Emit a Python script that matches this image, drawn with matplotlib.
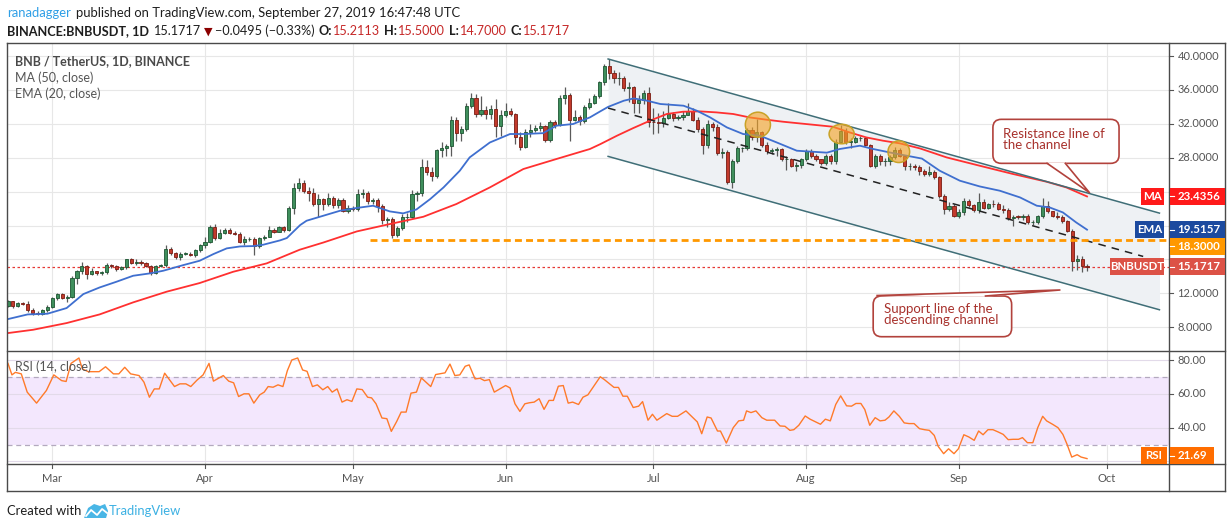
import numpy as np
import matplotlib.pyplot as plt
from matplotlib.patches import Rectangle, Polygon, FancyBboxPatch, Ellipse
from matplotlib.lines import Line2D

plt.rcParams['font.family'] = ['Lato', 'DejaVu Sans']

# ---------------- data ----------------
# daily candles, index 0 = 2019-02-20, index 219 = 2019-09-27
first_open = 10.54
closes = [
    # Feb 20-28
    11.05, 10.50, 10.85, 10.80, 10.07, 9.70, 9.56, 9.99, 10.40,
    # Mar
    11.40, 11.88, 11.50, 11.60, 13.80, 14.60, 15.20, 14.30, 14.60, 14.40,
    14.50, 15.40, 15.20, 14.90, 15.10, 16.00, 15.60, 15.70, 15.60, 15.20,
    14.40, 15.20, 15.30, 17.20, 16.80, 16.30, 16.70, 16.70, 16.56, 17.10, 17.66,
    # Apr
    18.05, 19.80, 18.55, 19.10, 19.50, 19.15, 19.00, 18.10, 18.40, 18.40,
    17.60, 18.50, 18.70, 19.50, 19.30, 19.80, 19.50, 22.10, 24.40, 25.00,
    24.10, 23.90, 22.60, 23.10, 22.60, 23.20, 22.45, 23.05, 21.75, 22.10,
    # May
    21.95, 23.70, 23.85, 22.90, 23.00, 22.26, 20.70, 20.76, 18.90, 19.70,
    20.96, 21.05, 23.68, 23.86, 26.86, 26.35, 25.90, 28.87, 29.20, 29.40,
    32.50, 30.90, 31.40, 34.06, 35.10, 33.20, 33.60, 33.15, 33.75, 31.80, 33.04,
    # Jun
    33.47, 33.20, 30.50, 29.30, 31.00, 31.30, 31.50, 31.80, 30.10, 32.20,
    31.90, 35.08, 35.36, 32.50, 32.76, 32.30, 33.98, 34.50, 35.28, 36.93,
    38.82, 38.03, 37.36, 37.40, 36.20, 36.30, 34.50, 34.80, 35.60, 32.20,
    # Jul
    32.17, 32.05, 32.69, 33.20, 32.65, 32.76, 33.07, 33.55, 32.50, 31.35,
    29.50, 31.98, 31.58, 28.60, 28.67, 25.17, 27.65, 29.10, 29.10, 31.30,
    30.50, 31.07, 29.50, 28.80, 28.95, 29.07, 27.80, 27.85, 27.06, 27.18, 27.80,
    # Aug
    28.80, 28.20, 27.85, 27.40, 28.24, 27.60, 29.90, 31.20, 29.85, 29.85,
    30.30, 30.30, 29.50, 27.06, 28.20, 27.57, 27.65, 28.04, 28.90, 28.24,
    26.98, 27.06, 26.86, 26.40, 26.07, 26.35, 25.68, 23.44, 21.95, 22.34, 21.16,
    # Sep 1-27
    21.60, 22.93, 22.46, 21.80, 22.73, 22.06, 22.54, 22.50, 22.00, 21.80,
    20.85, 21.05, 21.04, 21.16, 20.37, 20.37, 21.16, 22.34, 21.70, 21.16,
    20.96, 20.49, 19.39, 15.85, 16.05, 15.2113, 15.1717,
]
highs = [
    11.20, 11.10, 10.95, 11.00, 11.10, 10.30, 9.90, 10.10, 10.60,
    11.60, 12.00, 12.05, 11.80, 14.00, 14.80, 15.70, 15.30, 15.00, 14.70,
    14.70, 15.60, 15.50, 15.30, 15.20, 16.10, 16.20, 16.00, 15.90, 15.70,
    15.30, 15.30, 15.50, 17.70, 17.50, 16.90, 16.90, 16.90, 16.90, 17.20, 17.80,
    18.60, 20.10, 20.20, 19.60, 19.70, 19.70, 19.40, 19.30, 18.80, 18.70,
    18.60, 18.60, 18.90, 20.00, 19.70, 20.00, 20.00, 22.30, 25.00, 25.60,
    25.40, 24.60, 24.40, 23.70, 23.20, 23.80, 23.50, 23.30, 23.30, 22.40,
    22.30, 24.30, 24.30, 24.10, 23.30, 23.20, 22.50, 21.00, 21.00, 20.00,
    21.40, 21.50, 24.20, 24.10, 27.90, 27.70, 26.90, 29.00, 29.90, 29.60,
    32.90, 32.80, 31.80, 34.50, 35.60, 35.50, 35.30, 34.10, 34.20, 34.90, 33.60,
    34.50, 33.90, 33.30, 31.00, 31.40, 32.00, 31.90, 32.20, 31.90, 32.50,
    32.40, 35.40, 36.40, 35.60, 33.60, 33.10, 34.20, 35.00, 35.50, 37.10,
    39.00, 39.60, 38.30, 38.10, 37.70, 36.90, 36.50, 35.40, 36.00, 36.30,
    33.90, 33.30, 33.50, 34.50, 33.40, 33.00, 33.50, 34.50, 33.90, 32.80,
    31.60, 32.40, 32.20, 32.00, 29.20, 28.90, 27.90, 29.40, 29.30, 31.50,
    31.60, 32.60, 31.20, 29.90, 29.20, 29.30, 29.20, 28.20, 28.00, 27.50, 28.00,
    29.00, 29.00, 28.40, 27.90, 28.50, 28.40, 30.20, 31.90, 31.50, 30.30,
    30.60, 30.60, 30.50, 29.60, 28.40, 28.40, 28.00, 28.30, 29.30, 29.10,
    28.30, 27.40, 27.30, 27.10, 26.70, 27.00, 26.50, 25.80, 23.70, 22.80, 22.50,
    21.90, 23.20, 23.10, 22.60, 23.80, 23.10, 22.70, 23.00, 22.80, 22.40,
    22.10, 21.30, 21.30, 21.40, 21.40, 20.60, 21.30, 23.30, 22.90, 21.70,
    21.60, 21.20, 20.60, 19.60, 16.50, 16.40, 15.50,
]
lows = [
    10.40, 10.30, 10.45, 10.60, 9.75, 9.50, 9.40, 9.45, 9.85,
    10.30, 11.20, 11.30, 11.00, 11.50, 13.10, 14.30, 13.70, 14.20, 14.20,
    14.20, 14.30, 15.00, 14.70, 14.80, 14.90, 15.50, 15.40, 15.40, 15.10,
    14.20, 14.30, 15.10, 15.10, 16.50, 16.00, 15.90, 16.50, 16.40, 16.30, 16.90,
    17.40, 17.90, 18.30, 18.40, 19.00, 19.00, 18.90, 17.90, 17.70, 18.20,
    16.50, 17.30, 18.30, 18.60, 19.10, 19.20, 19.30, 19.40, 21.40, 24.10,
    23.90, 22.90, 22.30, 21.00, 21.80, 22.30, 22.10, 22.10, 21.60, 21.50,
    21.70, 21.70, 23.30, 22.60, 22.60, 21.60, 20.20, 19.80, 18.50, 18.60,
    19.50, 20.40, 20.90, 22.90, 23.50, 26.00, 25.30, 25.60, 28.10, 28.20,
    28.20, 30.00, 30.00, 31.10, 33.90, 32.80, 32.90, 32.60, 32.60, 30.50, 30.60,
    32.80, 32.90, 29.60, 28.90, 29.10, 30.40, 31.00, 31.20, 29.90, 29.90,
    31.50, 31.70, 34.30, 30.00, 32.30, 31.90, 32.10, 33.70, 34.30, 35.00,
    36.60, 37.30, 36.80, 36.60, 35.90, 34.60, 33.30, 33.30, 34.30, 31.60,
    30.80, 30.90, 31.60, 32.60, 32.30, 32.40, 32.40, 33.00, 32.30, 31.00,
    28.50, 29.20, 31.20, 28.30, 28.00, 24.90, 24.40, 27.40, 28.70, 28.90,
    30.10, 29.90, 29.30, 28.50, 28.40, 28.20, 27.60, 26.60, 26.90, 26.40, 26.80,
    27.60, 28.00, 27.60, 27.20, 27.20, 27.30, 27.30, 29.70, 29.60, 29.20,
    29.70, 30.00, 29.40, 26.90, 26.80, 27.20, 27.00, 27.20, 27.90, 28.10,
    26.50, 26.50, 26.60, 26.00, 25.80, 25.90, 25.50, 23.20, 21.40, 21.70, 21.00,
    20.90, 21.30, 22.20, 21.60, 21.50, 21.90, 21.90, 22.20, 21.80, 21.50,
    20.70, 19.90, 20.80, 20.60, 20.20, 20.10, 20.20, 20.90, 21.50, 21.00,
    20.80, 20.30, 19.20, 14.70, 14.80, 14.50, 14.70,
]
# daily open = previous close (24h market)
opens = [first_open] + closes[:-1]

# indicator lines as (day index, value)
ma50 = [(0, 7.32), (5.1, 7.71), (11.9, 8.50), (18.6, 9.52), (25.4, 10.94),
        (32.2, 12.20), (38.9, 13.22), (45.7, 14.55), (52.5, 15.54), (59.2, 17.15),
        (64.0, 18.00), (70.8, 19.31), (77.5, 20.18), (84.3, 21.04), (91.0, 22.54),
        (97.8, 24.50), (104.6, 26.67), (111.3, 27.85), (118.1, 29.03), (120.2, 29.60),
        (123.6, 30.60), (126.9, 31.50), (130.3, 32.37), (133.7, 33.16), (137.0, 33.43),
        (140.4, 33.47), (143.8, 33.35), (147.2, 33.16), (150.5, 32.76), (153.9, 32.49),
        (157.3, 32.25), (160.7, 32.05), (164.0, 31.86), (167.4, 31.66), (170.8, 30.99),
        (174.2, 30.40), (177.6, 30.01), (181.0, 29.70), (185.1, 29.10), (190.5, 28.04),
        (197.2, 27.06), (204.0, 26.08), (210.8, 25.17), (214.8, 24.50), (219, 23.4356)]
ema20 = [(0, 8.97), (4, 9.52), (8, 9.60), (11.9, 10.27), (15.3, 11.92), (18.6, 12.70),
         (22.0, 13.37), (25.4, 14.08), (28.8, 14.36), (31.5, 14.67), (35.6, 15.34),
         (38.9, 15.85), (41.7, 16.64), (44.4, 17.31), (47.1, 17.54), (49.8, 17.58),
         (51.8, 17.74), (55.2, 18.25), (56.6, 18.53), (57.9, 19.27), (59.3, 20.06),
         (60.6, 20.57), (64.0, 21.16), (67.4, 21.75), (70.7, 22.07), (74.1, 22.34),
         (77.5, 21.67), (80.2, 21.44), (82.9, 21.90), (85.7, 23.13), (88.4, 24.50),
         (91.7, 26.47), (93.7, 28.04), (97.8, 29.80), (101.9, 30.80), (104.7, 30.80),
         (108.6, 30.90), (111.3, 31.78), (114.7, 31.98), (118.1, 32.76), (120.2, 33.47),
         (121.8, 34.00), (125.0, 34.73), (127.0, 35.00), (129.7, 34.73), (132.4, 34.34),
         (137.1, 34.14), (139.8, 33.55), (142.5, 32.76), (145.9, 31.58), (149.2, 30.80),
         (152.6, 30.60), (156.0, 29.81), (160.1, 28.83), (166.2, 28.60), (168.8, 29.03),
         (172.9, 29.42), (175.6, 29.03), (179.6, 28.55), (185.5, 27.90), (189.1, 26.47),
         (193.2, 25.29), (197.2, 24.62), (201.3, 24.11), (205.4, 23.32), (208.8, 22.34),
         (211.4, 22.14), (214.1, 21.55), (216.8, 20.37), (219, 19.5157)]
rsi14 = [(0, 78), (0.8, 71.2), (1.5, 72.7), (2.7, 71.8), (3.9, 61), (5.8, 54.5), (7.8, 62),
         (9.3, 71.2), (10.9, 67.8), (11.8, 67.3), (12.8, 78), (14.4, 81.2), (15.1, 74.7),
         (16.3, 73.1), (18.5, 73.1), (19.8, 76), (21.4, 71.8), (22.5, 71.8), (23.7, 75.7),
         (24.9, 71.8), (26.6, 70.8), (27.6, 66.9), (28.7, 58), (29.7, 62.9), (30.7, 62.9),
         (31.8, 72.2), (33.8, 64.3), (34.9, 65.9), (36.1, 65.9), (37.1, 64.3), (38.4, 68.2),
         (39.6, 71.2), (40.8, 78), (41.7, 67.5), (43.7, 70.8), (44.8, 67.5), (45.8, 66.5),
         (46.8, 58.4), (47.9, 60), (48.9, 60), (49.9, 54.5), (51.1, 59.4), (52.0, 61),
         (52.8, 64.3), (53.8, 63.9), (54.8, 65.3), (55.8, 64.3), (56.7, 73.7), (57.6, 80),
         (58.8, 81.2), (59.8, 74.1), (60.7, 73.3), (61.8, 64.3), (62.8, 65.3), (63.9, 62.4),
         (64.9, 64.3), (65.8, 61), (66.8, 62.9), (67.8, 55.1), (68.8, 56.5), (69.8, 55.5),
         (70.8, 62.9), (71.9, 62.5), (73.0, 58), (73.8, 57.6), (74.7, 54.1), (75.9, 45.7),
         (76.9, 45.3), (77.8, 37.8), (78.9, 43.7), (79.8, 49.2), (80.8, 49.2), (81.8, 60.4),
         (82.9, 61), (83.9, 69.4), (85.8, 64.3), (86.8, 71.4), (88.7, 72.4), (89.7, 77.6),
         (90.7, 70.8), (91.7, 71.2), (92.8, 76.3), (93.6, 77.1), (94.8, 68.8), (95.8, 69.2),
         (96.7, 67.8), (97.7, 68.4), (98.7, 61), (99.8, 62.9), (101.0, 64.9), (101.9, 63.5),
         (102.9, 54.1), (103.9, 49.6), (104.9, 54.1), (105.8, 54.7), (106.8, 55.1),
         (107.8, 57.1), (108.8, 50.8), (109.8, 56.1), (110.7, 56.1), (111.7, 64.5),
         (112.7, 64.9), (113.7, 54.5), (114.6, 55.1), (115.8, 53.7), (116.7, 58),
         (117.7, 59.4), (120.2, 70.1), (121, 68.5), (123, 63.8), (123.9, 63.8), (124.8, 58.6),
         (125.7, 58.6), (126.9, 51.9), (128, 52.7), (128.8, 55.4), (129.9, 44.4), (130.8, 47.9),
         (131.7, 44.4), (133.7, 48.3), (134.8, 46.7), (135.9, 46.7), (137.6, 49.9), (139, 45.9),
         (139.9, 43.4), (140.8, 36.4), (141.9, 46.3), (142.7, 45.7), (144, 38), (144.6, 38),
         (145.8, 30.9), (147.2, 40), (148.3, 44), (149.3, 44.4), (149.9, 49.9), (150.8, 48.9),
         (151.8, 49.9), (153, 45.9), (154, 44.4), (155.6, 44.4), (156.7, 41), (157.7, 40.8),
         (158.7, 38.4), (159.5, 38.8), (160.5, 41.4), (161.8, 46.9), (162.8, 45), (163.9, 43.4),
         (164.9, 42), (165.9, 45), (166.9, 44), (168, 53.7), (169, 58.8), (170.2, 52.9),
         (171.2, 52.7), (172.1, 54.3), (173.1, 54.3), (173.9, 50.7), (174.9, 41.4), (176, 45.9),
         (177, 44), (178, 44.4), (178.8, 46.3), (179.8, 49.9), (180.9, 46.7), (181.9, 42.8),
         (182.9, 42.4), (183.9, 42.4), (185, 39.4), (186, 38.8), (187, 38.4), (188, 35.4),
         (188.8, 28.9), (189.9, 24.6), (190.9, 27.5), (192, 24.6), (192.9, 27.5), (194, 35.8),
         (195, 34.5), (196.1, 32.5), (197, 38), (197.9, 35.8), (198.9, 38.8), (199.9, 38.8),
         (201, 37.4), (202, 36), (203, 32.9), (204, 33.1), (205.1, 33.1), (205.9, 34.1),
         (206.9, 31.1), (208, 31.1), (209, 40), (210, 46.7), (210.8, 44), (212, 42),
         (213.1, 40), (214.1, 36), (214.9, 30.5), (215.9, 22.6), (217, 24), (217.8, 22.6),
         (219, 21.69)]

month_idx = [9, 40, 70, 101, 131, 162, 193, 223]
month_lbl = ['Mar', 'Apr', 'May', 'Jun', 'Jul', 'Aug', 'Sep', 'Oct']
price_ticks = [8, 12, 16, 20, 24, 28, 32, 36, 40]
rsi_ticks = [20, 40, 60, 80]
rsi_labels = [40, 60, 80]

# drawings on the chart
channel_x = [121.8, 233.7]
upper_y = [39.65, 21.47]
lower_y = [28.16, 10.07]
mid_x = [121.8, 230.4]
mid_y = [33.86, 16.36]
level_1830 = 18.30
level_start = 73.5
circle_x = [152.2, 169.2, 180.8]
circle_y = [31.90, 30.80, 28.71]
last_close = closes[-1]

# ---------------- figure ----------------
W, H = 1232, 528
fig = plt.figure(figsize=(W / 100, H / 100), dpi=100)
fig.patch.set_facecolor('white')

L, R = 6.7, 1169.3
TOP, MID, BOT, DBOT = 43.3, 350.7, 464.0, 491.0
RIGHT = 1225.0

ax = fig.add_axes([L / W, 1 - MID / H, (R - L) / W, (MID - TOP) / H])
axr = fig.add_axes([L / W, 1 - BOT / H, (R - L) / W, (BOT - MID) / H])
for a in (ax, axr):
    a.set_xlim(-0.26, 235.7)
    a.set_xticks([])
    a.set_yticks([])
    for s in a.spines.values():
        s.set_visible(False)
ax.set_ylim(5.24, 41.5)
axr.set_ylim(18.5, 85.5)

grid_c = '#e7e7e7'
for t in price_ticks:
    ax.axhline(t, color=grid_c, lw=0.8, zorder=0)
for m in month_idx:
    ax.axvline(m, color=grid_c, lw=0.8, zorder=0)
    axr.axvline(m, color=grid_c, lw=0.8, zorder=0)

# channel
cx = np.array(channel_x)
ax.fill_between(cx, lower_y, upper_y, color='#eef1f4', zorder=1, lw=0)
ax.plot(cx, upper_y, color='#3f6e77', lw=1.1, zorder=6)
ax.plot(cx, lower_y, color='#3f6e77', lw=1.1, zorder=6)
ax.plot(mid_x, mid_y, color='#222222', lw=1.1, dashes=(5, 4), zorder=6)

# horizontal levels
ax.plot([level_start, 235.7], [level_1830] * 2, color='#ff9800', lw=2.0, dashes=(2.5, 1.5), zorder=6)
ax.axhline(last_close, color='#e53935', lw=0.9, dashes=(2, 2), zorder=2)

# candles
idx = np.arange(len(closes))
o = np.array(opens)
c = np.array(closes)
up = c >= o
lo = np.minimum(o, c)
hgt = np.maximum(np.abs(c - o), 0.07)
ax.vlines(idx, lows, highs, color='#5a5a5a', lw=0.9, zorder=3)
ax.bar(idx[up], hgt[up], bottom=lo[up], width=0.64, color='#3f8f5c',
       edgecolor='#1d5532', lw=0.6, zorder=4)
ax.bar(idx[~up], hgt[~up], bottom=lo[~up], width=0.64, color='#c23a2c',
       edgecolor='#7a1b12', lw=0.6, zorder=4)

# indicators
ax.plot(*zip(*ma50), color='#ff3030', lw=1.3, zorder=5)
ax.plot(*zip(*ema20), color='#3f6fcf', lw=1.3, zorder=5)

# orange circles
circle_w = [5.1, 5.1, 4.4]
circle_h = [2.95, 2.3, 2.55]
for x0, y0, cw, ch in zip(circle_x, circle_y, circle_w, circle_h):
    ax.add_patch(Ellipse((x0, y0), cw, ch, facecolor=(0.96, 0.64, 0.15, 0.62),
                         edgecolor='#c9a227', lw=1.1, zorder=7))

# callouts
ann_c = '#a8322d'
box_c = '#b2423c'
asp = 4.927 / 8.478
ax.add_patch(FancyBboxPatch((199.9, 27.34), 25.6, 5.19,
                            boxstyle='round,pad=0,rounding_size=1.7', mutation_aspect=asp,
                            facecolor='white', edgecolor=box_c, lw=1.2, zorder=8))
ax.add_patch(Polygon([(210.9, 27.45), (219.5, 23.88), (214.6, 27.45)], closed=True,
                     facecolor='white', edgecolor='none', zorder=9))
ax.add_line(Line2D([210.9, 219.5, 214.6], [27.34, 23.88, 27.34], color=box_c, lw=1.2, zorder=9))
ax.text(202.0, 30.1, 'Resistance line of\nthe channel', color=ann_c, fontsize=9.5,
        va='center', ha='left', linespacing=0.9, zorder=10)

ax.add_patch(FancyBboxPatch((175.6, 6.89), 28.1, 4.8,
                            boxstyle='round,pad=0,rounding_size=1.7', mutation_aspect=asp,
                            facecolor='white', edgecolor=box_c, lw=1.2, zorder=8))
ax.add_patch(Polygon([(176.4, 11.6), (213.5, 12.40), (198.4, 11.6)], closed=True,
                     facecolor='white', edgecolor='none', zorder=9))
ax.add_line(Line2D([176.4, 213.5, 198.4], [11.75, 12.40, 11.69], color=box_c, lw=1.2, zorder=9))
ax.text(177.7, 9.5, 'Support line of the\ndescending channel', color=ann_c, fontsize=9.5,
        va='center', ha='left', linespacing=0.9, zorder=10)

# RSI pane
axr.axhspan(30, 70, color='#f3e7fd', zorder=0, lw=0)
for t in rsi_ticks:
    axr.axhline(t, color='#e2dae9', lw=0.8, zorder=0.5)
for t in (30, 70):
    axr.axhline(t, color='#b3a9be', lw=0.9, dashes=(4, 3), zorder=1)
axr.plot(*zip(*rsi14), color='#ff7a2a', lw=1.0, zorder=3)


# ---------------- text, scales and frames ----------------
renderer = fig.canvas.get_renderer()


def T(x, y, s, **kw):
    kw.setdefault('va', 'center')
    kw.setdefault('ha', 'left')
    return fig.text(x / W, 1 - y / H, s, **kw)


def put(x, y, s, **kw):
    # draw a text and give back the pixel x where it ends
    t = T(x, y, s, **kw)
    return t.get_window_extent(renderer).x1


def ypix(a, v):
    return H - a.transData.transform((0, v))[1]


def xpix(a, v):
    return a.transData.transform((v, 0))[0]


def hline(x0, x1, y, color, lw=0.8, z=2):
    fig.add_artist(Line2D([x0 / W, x1 / W], [1 - y / H, 1 - y / H], color=color, lw=lw,
                          transform=fig.transFigure, zorder=z))


def vline(x, y0, y1, color, lw=0.8, z=2):
    fig.add_artist(Line2D([x / W, x / W], [1 - y0 / H, 1 - y1 / H], color=color, lw=lw,
                          transform=fig.transFigure, zorder=z))


def box(x0, x1, yc, h, color, z=4):
    fig.add_artist(Rectangle((x0 / W, 1 - (yc + h / 2) / H), (x1 - x0) / W, h / H,
                             transform=fig.transFigure, facecolor=color, edgecolor='none',
                             zorder=z))


tick_c = '#555555'

# value tags on the price scale (pushed down when they would collide)
tag_h = 16.6
tags = [('MA', ma50[-1][1], '#ff1a1a', 1140.7),
        ('EMA', ema20[-1][1], '#1c4a9f', 1135.0),
        (None, level_1830, '#ff9800', None),
        ('BNBUSDT', last_close, '#dc5246', 1110.0)]
tag_spans = []
prev_bottom = -1e9
for name, val, col, nx in tags:
    yc = ypix(ax, val)
    if yc - tag_h / 2 < prev_bottom:
        yc = prev_bottom + tag_h / 2
    prev_bottom = yc + tag_h / 2
    tag_spans.append((yc - tag_h / 2, yc + tag_h / 2))
    box(R + 0.5, RIGHT, yc, tag_h, col)
    hline(R + 0.5, R + 4.5, yc, 'white', z=5)
    T(1177.5, yc, f'{val:.4f}', color='white', fontsize=8.3, weight='bold', zorder=6)
    if name:
        box(nx, 1164.0, yc, tag_h, col)
        T((nx + 1164.0) / 2, yc, name, ha='center', color='white', fontsize=8.3,
          weight='bold', zorder=6)

for t in price_ticks:
    y = ypix(ax, t)
    hline(R, R + 4, y, tick_c)
    hidden = any(y0 - 6 < y < y1 + 6 for y0, y1 in tag_spans)
    if not hidden:
        T(1177.5, y, f'{t:.4f}', color=tick_c, fontsize=8)
for t in rsi_labels:
    y = ypix(axr, t)
    hline(R, R + 4, y, tick_c)
    T(1177.5, y, f'{t:.2f}', color=tick_c, fontsize=8)
for m, lab in zip(month_idx, month_lbl):
    x = xpix(axr, m)
    vline(x, BOT, BOT + 4, tick_c)
    T(x, 479, lab, ha='center', color=tick_c, fontsize=8)

rsi_val = rsi14[-1][1]
yc = min(ypix(axr, rsi_val), BOT - tag_h / 2)
box(R + 0.5, 1214.0, yc, tag_h, '#ff6d00')
hline(R + 0.5, R + 4.5, yc, 'white', z=5)
T(1177.5, yc, f'{rsi_val:.2f}', color='white', fontsize=8.3, weight='bold', zorder=6)
box(1141.0, 1166.5, yc, tag_h, '#ff6d00')
T(1153.7, yc, 'RSI', ha='center', color='white', fontsize=8.3, weight='bold', zorder=6)

# frames
frame_c = '#4a4a4a'
hline(L, RIGHT, TOP, frame_c, 1.0, 3)
hline(L, RIGHT, MID, frame_c, 1.0, 3)
hline(L, RIGHT, BOT, frame_c, 1.0, 3)
hline(L, RIGHT, DBOT, frame_c, 1.0, 3)
vline(L, TOP, DBOT, frame_c, 1.0, 3)
vline(R, TOP, DBOT, frame_c, 1.0, 3)
vline(RIGHT, TOP, DBOT, frame_c, 1.0, 3)

# pane legends
T(15, 61, 'BNB / TetherUS, 1D, BINANCE', color='#4a4a4a', fontsize=9, weight='bold')
T(15, 77.5, 'MA (50, close)', color='#555555', fontsize=9)
T(15, 94, 'EMA (20, close)', color='#555555', fontsize=9)
T(15, 367, 'RSI (14, close)', color='#555555', fontsize=9)

# header
hdr = '#1e1e1e'
red = '#c62828'
fs = 9.1
T(7, 13, 'ranadagger', color='#2f9fe6', fontsize=9.4)
T(76.5, 13, 'published on TradingView.com, September 27, 2019 16:47:48 UTC', color=hdr, fontsize=9.4)
x = put(7, 31, 'BINANCE:BNBUSDT, 1D', color=hdr, fontsize=fs, weight='bold')
x = put(max(147, x + 5), 31, '15.1717', color=hdr, fontsize=fs)
x = put(max(195, x + 3), 31.5, '\u25bc', color='#8b0000', fontsize=8, family=['DejaVu Sans'])
x = put(max(207, x + 2), 31, '\u22120.0495 (\u22120.33%)', color=hdr, fontsize=fs)
for x0, lab, val in [(313, 'O:', '15.2113'), (377, 'H:', '15.5000'),
                     (441, 'L:', '14.7000'), (501, 'C:', '15.1717')]:
    x = put(max(x0, x + 4), 31, lab, color=hdr, fontsize=fs, weight='bold')
    x = put(x + 1, 31, val, color=red, fontsize=fs)

# footer with a small logo
x = put(6.7, 511, 'Created with', color='#1e1e1e', fontsize=9.4)
lx = x + 3
logo = Polygon([((lx + 0) / W, 1 - 518 / H), ((lx + 4) / W, 1 - 508 / H),
                ((lx + 10) / W, 1 - 504 / H), ((lx + 16) / W, 1 - 506 / H),
                ((lx + 21) / W, 1 - 504 / H), ((lx + 24) / W, 1 - 511 / H),
                ((lx + 22) / W, 1 - 518 / H)], closed=True, transform=fig.transFigure,
               facecolor='#49b6e6', edgecolor='none', zorder=3)
fig.add_artist(logo)
fig.add_artist(Line2D([(lx + 2) / W, (lx + 7) / W, (lx + 13) / W, (lx + 18) / W, (lx + 23) / W],
                      [1 - 516 / H, 1 - 510 / H, 1 - 515 / H, 1 - 509 / H, 1 - 513 / H],
                      color='white', lw=1.3, transform=fig.transFigure, zorder=4))
T(lx + 25, 511, 'TradingView', color='#3db1e3', fontsize=9.4)

fig.savefig('out.png', dpi=100)
